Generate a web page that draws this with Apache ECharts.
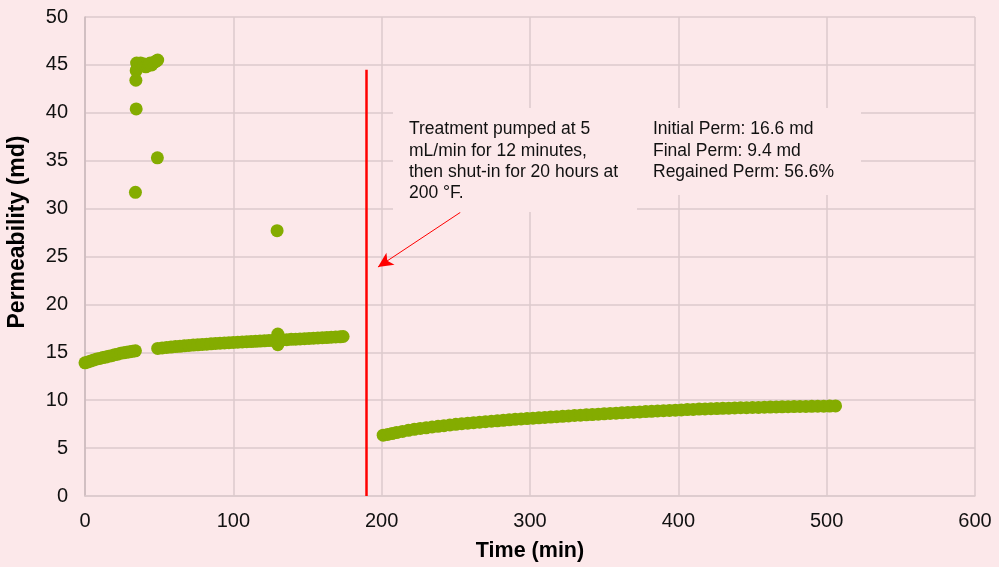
<!DOCTYPE html>
<html>
<head>
<meta charset="utf-8">
<script src="https://cdn.jsdelivr.net/npm/echarts@6/dist/echarts.min.js"></script>
<style>
  html, body { margin: 0; padding: 0; background: #fce8ea; }
  #plot { width: 999px; height: 567px; }
</style>
</head>
<body>
<div id="plot"></div>
<script>
// flow test before treatment
var seg1Time = [0, 2, 4, 6, 8, 10, 12, 14, 16, 18, 20, 22, 24, 26, 28, 30, 32, 34];
var seg1Perm = [13.9, 14.0, 14.1, 14.2, 14.3, 14.35, 14.45, 14.5, 14.6, 14.65, 14.75, 14.8, 14.9, 14.95, 15.0, 15.05, 15.1, 15.15];

// startup spikes / outliers
var spikeTime = [34, 34.5, 34.3, 34.5, 34.8, 35.2, 36, 37.5, 39, 40, 41, 42, 43, 44, 45, 46, 47, 48, 49, 48.8, 129.5, 130, 130, 129.8];
var spikePerm = [31.7, 40.4, 43.4, 44.4, 45.2, 44.7, 45.1, 45.2, 45.0, 45.1, 44.8, 44.9, 45.1, 45.2, 45.0, 45.2, 45.3, 45.4, 45.5, 35.3, 27.7, 15.8, 16.9, 16.5];

var seg2Time = [49, 52, 55, 58, 61, 64, 67, 70, 73, 76, 79, 82, 85, 88, 91, 94, 97, 100, 103, 106, 109, 112, 115, 118, 121, 124, 127, 130, 133, 136, 139, 142, 145, 148, 151, 154, 157, 160, 163, 166, 169, 172, 174];
var seg2Perm = [15.4, 15.45, 15.5, 15.55, 15.6, 15.62, 15.68, 15.72, 15.75, 15.78, 15.82, 15.85, 15.88, 15.92, 15.95, 15.97, 16.0, 16.02, 16.05, 16.08, 16.1, 16.12, 16.15, 16.17, 16.2, 16.22, 16.25, 16.27, 16.3, 16.32, 16.35, 16.37, 16.4, 16.42, 16.45, 16.47, 16.5, 16.52, 16.54, 16.57, 16.6, 16.62, 16.65];

// flow test after shut-in
var seg3Time = [201, 204, 207, 210, 214, 218, 222, 226, 230, 234, 238, 242, 246, 250, 254, 258, 262, 266, 270, 274, 278, 282, 286, 290, 294, 298, 302, 306, 310, 314, 318, 322, 326, 330, 334, 338, 342, 346, 350, 354, 358, 362, 366, 370, 374, 378, 382, 386, 390, 394, 398, 402, 406, 410, 414, 418, 422, 426, 430, 434, 438, 442, 446, 450, 454, 458, 462, 466, 470, 474, 478, 482, 486, 490, 494, 498, 502, 506];
var seg3Perm = [6.35, 6.42, 6.52, 6.62, 6.74, 6.86, 6.96, 7.05, 7.12, 7.2, 7.27, 7.34, 7.41, 7.48, 7.54, 7.6, 7.65, 7.7, 7.75, 7.8, 7.85, 7.9, 7.95, 8.0, 8.04, 8.08, 8.12, 8.16, 8.2, 8.24, 8.28, 8.32, 8.36, 8.4, 8.43, 8.47, 8.5, 8.54, 8.58, 8.62, 8.65, 8.68, 8.72, 8.75, 8.78, 8.81, 8.84, 8.87, 8.9, 8.93, 8.96, 8.99, 9.02, 9.04, 9.07, 9.09, 9.11, 9.13, 9.15, 9.17, 9.19, 9.21, 9.22, 9.24, 9.25, 9.27, 9.28, 9.29, 9.31, 9.32, 9.33, 9.34, 9.35, 9.36, 9.37, 9.38, 9.39, 9.4];

var treatmentTime = 189.5;
var treatmentTop = 44.5;
var arrowFrom = [253, 29.6];
var arrowTo = [197.5, 23.9];

var xTicks = [0, 100, 200, 300, 400, 500, 600];
var yTicks = [0, 5, 10, 15, 20, 25, 30, 35, 40, 45, 50];

var noteText = 'Treatment pumped at 5\nmL/min for 12 minutes,\nthen shut-in for 20 hours at\n200 °F.';
var permText = 'Initial Perm: 16.6 md\nFinal Perm: 9.4 md\nRegained Perm: 56.6%';

function zip(xs, ys) {
	var out = [];
	for (var i = 0; i < xs.length; i++) out.push([xs[i], ys[i]]);
	return out;
}

var points = [].concat(zip(seg1Time, seg1Perm), zip(spikeTime, spikePerm), zip(seg2Time, seg2Perm), zip(seg3Time, seg3Perm));

var bg = '#fce8ea';
var gridColor = '#dccacd';
var font = 'Liberation Sans, Arial, sans-serif';

var option = {
	backgroundColor: bg,
	animation: false,
	grid: { left: 85, right: 24, top: 17, bottom: 70 },
	xAxis: {
		type: 'value',
		min: xTicks[0],
		max: xTicks[xTicks.length - 1],
		interval: 100,
		name: 'Time (min)',
		nameLocation: 'middle',
		nameGap: 44,
		nameTextStyle: { fontFamily: font, fontWeight: 'bold', fontSize: 21.5, color: '#000' },
		axisLine: { show: true, lineStyle: { color: gridColor, width: 1.5 } },
		axisTick: { show: false },
		axisLabel: { margin: 15, fontFamily: font, fontSize: 20, color: '#111' },
		splitLine: { show: true, lineStyle: { color: gridColor, width: 1.5 } }
	},
	yAxis: {
		type: 'value',
		min: yTicks[0],
		max: yTicks[yTicks.length - 1],
		interval: 5,
		axisLine: { show: true, lineStyle: { color: '#cbb9bc', width: 1.5 } },
		axisTick: { show: false },
		axisLabel: { margin: 17, fontFamily: font, fontSize: 20, color: '#111' },
		splitLine: { show: true, lineStyle: { color: gridColor, width: 1.5 } }
	},
	series: [
		{
			type: 'scatter',
			symbol: 'circle',
			symbolSize: 13,
			itemStyle: { color: '#84ac00', opacity: 1 },
			data: points,
			markLine: {
				silent: true,
				animation: false,
				label: { show: false },
				data: [
					[
						{ coord: [treatmentTime, 0], symbol: 'none', lineStyle: { color: '#ff0000', width: 2.5, type: 'solid' } },
						{ coord: [treatmentTime, treatmentTop], symbol: 'none' }
					],
					[
						{ coord: arrowFrom, symbol: 'none', lineStyle: { color: '#ff0000', width: 1, type: 'solid' } },
						{ coord: arrowTo, symbol: 'arrow', symbolSize: [11, 15] }
					]
				]
			}
		}
	],
	graphic: [
		{
			type: 'text', silent: true, x: 18, y: 232, rotation: Math.PI / 2,
			style: { text: 'Permeability (md)', fontFamily: font, fontWeight: 'bold', fontSize: 23, fill: '#000', align: 'center', verticalAlign: 'middle' }
		},
		{
			type: 'rect', z: 100, silent: true,
			shape: { x: 393, y: 108, width: 244, height: 104 },
			style: { fill: bg }
		},
		{
			type: 'rect', z: 100, silent: true,
			shape: { x: 637, y: 108, width: 224, height: 87 },
			style: { fill: bg }
		},
		{
			type: 'text', z: 101, silent: true, x: 409, y: 119,
			style: { text: noteText, fontFamily: font, fontSize: 17.5, lineHeight: 21.3, fill: '#111' }
		},
		{
			type: 'text', z: 101, silent: true, x: 653, y: 119,
			style: { text: permText, fontFamily: font, fontSize: 17.5, lineHeight: 21.3, fill: '#111' }
		}
	]
};

var myChart = echarts.init(document.getElementById('plot'));
myChart.setOption(option);
</script>
</body>
</html>
